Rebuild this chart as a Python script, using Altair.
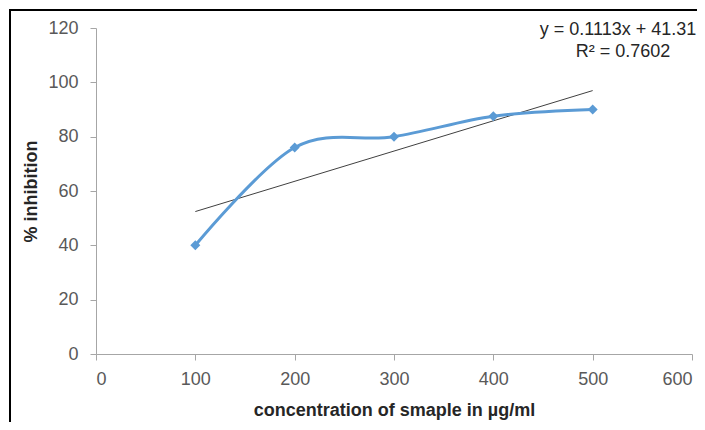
import altair as alt
import pandas as pd

# Data
CONCENTRATION = [100, 200, 300, 400, 500]
INHIBITION = [40, 76, 80, 87.5, 90]

TREND_SLOPE = 0.1113
TREND_INTERCEPT = 41.31
EQUATION_TEXT = "y = 0.1113x + 41.31"
R2_TEXT = "R² = 0.7602"

X_TICKS = [0, 100, 200, 300, 400, 500, 600]
Y_TICKS = [0, 20, 40, 60, 80, 100, 120]

X_TITLE = "concentration of smaple in µg/ml"
Y_TITLE = "% inhibition"

FONT = "Liberation Sans"
BLUE = "#5B9BD5"
AXIS_GRAY = "#A6A6A6"

data = pd.DataFrame({"x": CONCENTRATION, "y": INHIBITION})
trend = pd.DataFrame({"x": [min(CONCENTRATION), max(CONCENTRATION)]})
trend["y"] = TREND_SLOPE * trend["x"] + TREND_INTERCEPT
one = pd.DataFrame({"k": [0]})

x_scale = alt.Scale(domain=[0, 600], nice=False, zero=False)
y_scale = alt.Scale(domain=[0, 120], nice=False)

x_axis = alt.Axis(
    title=X_TITLE, values=X_TICKS, grid=False, tickSize=6,
    labelPadding=10, titlePadding=13, labelFontSize=18, titleFontSize=18,
    titleFontWeight="bold", labelColor="#595959", titleColor="#262626",
    domainColor=AXIS_GRAY, tickColor=AXIS_GRAY, labelFont=FONT, titleFont=FONT,
)
y_axis = alt.Axis(
    title=Y_TITLE, values=Y_TICKS, grid=False, tickSize=6,
    labelPadding=12, titlePadding=7, labelFontSize=18, titleFontSize=18,
    titleFontWeight="bold", labelColor="#595959", titleColor="#262626",
    domainColor=AXIS_GRAY, tickColor=AXIS_GRAY, labelFont=FONT, titleFont=FONT,
)

base = alt.Chart(data)

line = base.mark_line(color=BLUE, strokeWidth=3, interpolate="cardinal").encode(
    x=alt.X("x:Q", scale=x_scale, axis=x_axis),
    y=alt.Y("y:Q", scale=y_scale, axis=y_axis),
)
points = base.mark_point(shape="diamond", filled=True, opacity=1, size=100, color=BLUE).encode(
    x=alt.X("x:Q", scale=x_scale),
    y=alt.Y("y:Q", scale=y_scale),
)
trend_line = alt.Chart(trend).mark_line(color="#404040", strokeWidth=1).encode(
    x=alt.X("x:Q", scale=x_scale),
    y=alt.Y("y:Q", scale=y_scale),
)

eq1 = alt.Chart(one).mark_text(
    text=EQUATION_TEXT, font=FONT, fontSize=18, color="#262626", align="center", baseline="middle"
).encode(x=alt.value(522), y=alt.value(2))
eq2 = alt.Chart(one).mark_text(
    text=R2_TEXT, font=FONT, fontSize=18, color="#262626", align="center", baseline="middle"
).encode(x=alt.value(527), y=alt.value(24))

# chart-area frame (left and top border of the original picture)
frame_left = alt.Chart(one).mark_rule(color="#000000", strokeWidth=2).encode(
    x=alt.value(-86), y=alt.value(-18), y2=alt.value(420)
)
frame_top = alt.Chart(one).mark_rule(color="#000000", strokeWidth=2).encode(
    y=alt.value(-18), x=alt.value(-87), x2=alt.value(640)
)

chart = alt.layer(
    frame_left, frame_top, trend_line, line, points, eq1, eq2
).properties(
    width=596, height=326,
    autosize=alt.AutoSizeParams(type="none"),
    padding={"left": 88, "top": 20, "right": 5, "bottom": 68},
    background="white",
).configure_view(stroke=None)

chart.save("out.html", embed_options={"renderer": "svg", "actions": False})
